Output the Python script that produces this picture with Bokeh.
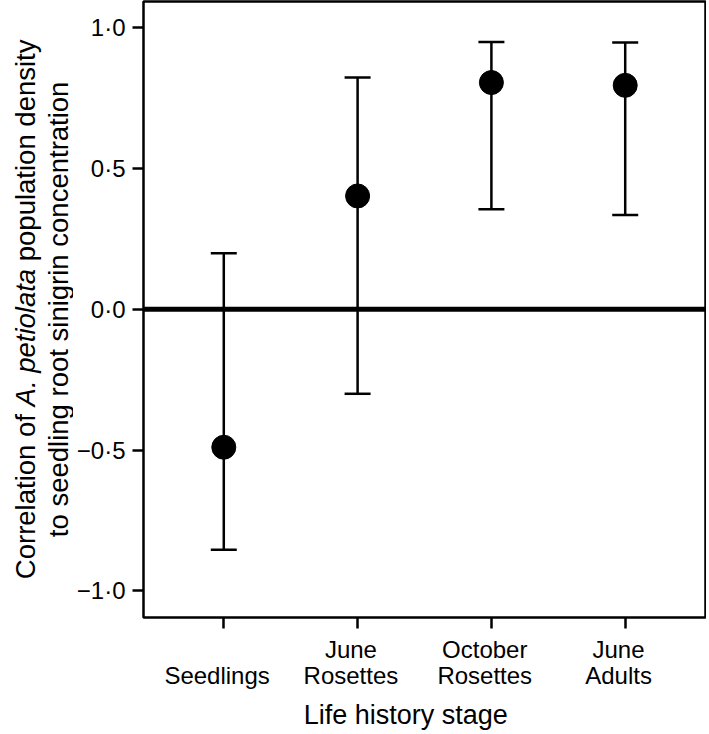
import math
from bokeh.plotting import figure
from bokeh.layouts import row
from bokeh.models import ColumnDataSource, FixedTicker, Whisker, TeeHead, Span, Range1d
from bokeh.core.properties import value
from bokeh.embed import file_html
from bokeh.resources import INLINE

# ---- data ----
stages = ["Seedlings", "June Rosettes", "October Rosettes", "June Adults"]
stage_tick_labels = ["\nSeedlings", "June\nRosettes", "October\nRosettes", "June\nAdults"]
correlation = [-0.49, 0.403, 0.806, 0.796]
ci_lower = [-0.854, -0.30, 0.356, 0.335]
ci_upper = [0.199, 0.824, 0.950, 0.948]
y_ticks = [-1.0, -0.5, 0.0, 0.5, 1.0]
y_tick_labels = ["\u22121\u00b70", "\u22120\u00b75", "0\u00b70", "0\u00b75", "1\u00b70"]
y_title_line1 = [("Correlation of ", "normal"), ("A. petiolata", "italic"), (" population density", "normal")]
y_title_line2 = "to seedling root sinigrin concentration"
x_title = "Life history stage"

FONT = "Liberation Sans"
NB = "\u00a0"
H = 733
TW = 73            # width of the strip holding the y-axis title
W = 706 - TW       # main figure width
BL, BR, BT, BB = 143 - TW, 1, 1, 116

xpos = list(range(1, len(stages) + 1))
src = ColumnDataSource(dict(x=xpos, r=correlation, lo=ci_lower, up=ci_upper))

yr = Range1d(-1.095, 1.094)
p = figure(width=W, height=H, output_backend="svg", toolbar_location=None,
           x_range=(0.4, 4.6), y_range=yr,
           min_border_left=BL, min_border_right=BR, min_border_top=BT, min_border_bottom=BB,
           background_fill_color="white", border_fill_color="white")
p.grid.visible = False
p.outline_line_color = "black"
p.outline_line_width = 2.5

for ax in (p.xaxis[0], p.yaxis[0]):
    ax.axis_line_color = None
    ax.major_tick_out = 11
    ax.major_tick_in = 0
    ax.major_tick_line_width = 2.5
    ax.major_tick_line_color = "black"
    ax.minor_tick_line_color = None
    ax.major_label_text_font = FONT
    ax.major_label_text_font_size = "24px"
    ax.major_label_text_color = "black"
    ax.axis_label_text_font = FONT
    ax.axis_label_text_font_style = "normal"
    ax.axis_label_text_color = "black"

# tick labels sit slightly left of their ticks in the original: pad each line on the right
def pad(lab, n=2):
    return "\n".join((ln + NB * n) if ln else ln for ln in lab.split("\n"))

p.xaxis.ticker = FixedTicker(ticks=xpos)
p.xaxis.major_label_overrides = {x: pad(lab) for x, lab in zip(xpos, stage_tick_labels)}
p.xaxis.major_label_standoff = 7
p.xaxis.major_label_text_line_height = 0.97
p.xaxis.axis_label = x_title + NB * 5
p.xaxis.axis_label_text_font_size = "27px"
p.xaxis.axis_label_standoff = 8

p.yaxis.ticker = FixedTicker(ticks=y_ticks)
p.yaxis.major_label_overrides = {t: lab for t, lab in zip(y_ticks, y_tick_labels)}
p.yaxis.major_label_standoff = 7

# zero line
p.add_layout(Span(location=0, dimension="width", line_color="black", line_width=5))

# error bars and points
p.add_layout(Whisker(source=src, base="x", lower="lo", upper="up",
                     line_color="black", line_width=2.5,
                     upper_head=TeeHead(size=26, line_width=2.5, line_color="black"),
                     lower_head=TeeHead(size=26, line_width=2.5, line_color="black")))
p.scatter("x", "r", source=src, size=24, fill_color="black", line_color="black")

# ---- y-axis title strip (two lines, partly italic) ----
t = figure(width=TW, height=H, output_backend="svg", toolbar_location=None,
           x_axis_type=None, y_axis_type=None,
           x_range=Range1d(0, TW), y_range=yr,
           min_border_left=0, min_border_right=0, min_border_top=BT, min_border_bottom=BB,
           outline_line_color=None,
           background_fill_color="white", border_fill_color="white")
t.grid.visible = False

helv = {' ': 278, '.': 278, 'A': 667, 'C': 722, 'a': 556, 'c': 500, 'd': 556, 'e': 556,
        'f': 278, 'g': 556, 'i': 222, 'l': 222, 'n': 556, 'o': 556, 'p': 556, 'r': 333,
        's': 500, 't': 278, 'u': 556, 'y': 500}
TFS = 27.5
def tw(s):
    return sum(helv.get(c, 556) for c in s) / 1000.0 * TFS

total = sum(tw(s) for s, _ in y_title_line1)
off = total / 2.0
for s, style in y_title_line1:
    lead = len(s) - len(s.lstrip(" "))
    t.text(x=[25], y=[0.0], text=[s.strip(" ")], angle=math.pi / 2,
           y_offset=off - tw(" " * lead),
           text_align="left", text_baseline="alphabetic",
           text_font=value(FONT), text_font_size=value(f"{TFS}px"),
           text_font_style=value(style), text_color="black")
    off -= tw(s)
t.text(x=[58], y=[0.0], text=[y_title_line2], angle=math.pi / 2,
       text_align="center", text_baseline="alphabetic",
       text_font=value(FONT), text_font_size=value(f"{TFS}px"), text_color="black")

layout = row(t, p)
open("out.html", "w").write(file_html(layout, INLINE))
